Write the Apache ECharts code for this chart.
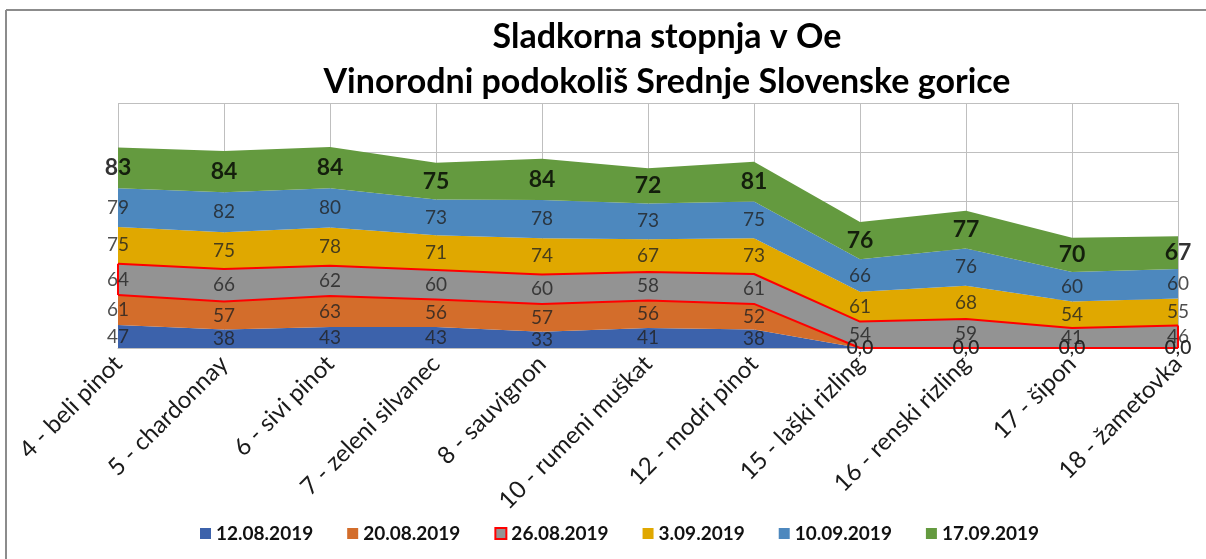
<!DOCTYPE html>
<html>
<head>
<meta charset="utf-8">
<script src="https://cdn.jsdelivr.net/npm/echarts@6/dist/echarts.min.js"></script>
<style>
html,body{margin:0;padding:0;background:#fff;}
#c{width:1206px;height:559px;}
</style>
</head>
<body>
<div id="c"></div>
<script>
var categories = ['4 - beli pinot','5 - chardonnay','6 - sivi pinot','7 - zeleni silvanec','8 - sauvignon','10 - rumeni muškat','12 - modri pinot','15 - laški rizling','16 - renski rizling','17 - šipon','18 - žametovka'];
var seriesNames = ['12.08.2019','20.08.2019','26.08.2019','3.09.2019','10.09.2019','17.09.2019'];
var s1208 = [47,38,43,43,33,41,38,0,0,0,0];
var s2008 = [61,57,63,56,57,56,52,0,0,0,0];
var s2608 = [64,66,62,60,60,58,61,54,59,41,46];
var s0309 = [75,75,78,71,74,67,73,61,68,54,55];
var s1009 = [79,82,80,73,78,73,75,66,76,60,60];
var s1709 = [83,84,84,75,84,72,81,76,77,70,67];
var yMin = 0, yMax = 500, yInterval = 100;

var values = [s1208,s2008,s2608,s0309,s1009,s1709];
var colors = ['#3C62AB','#D36D2B','#939393','#E0A800','#4D88BE','#649A3F'];
var FONT = 'Lato, "Open Sans", sans-serif';

// cumulative sums (for label midpoints and outline sides)
var cum = [];
values.forEach(function(arr, k){
  cum.push(arr.map(function(v,i){ return (k>0?cum[k-1][i]:0) + v; }));
});

var series = [];
values.forEach(function(arr, k){
  var s = {
    name: seriesNames[k],
    type: 'line',
    stack: 'total',
    data: arr,
    symbol: 'none',
    showSymbol: false,
    color: colors[k],
    itemStyle: {color: colors[k]},
    areaStyle: {color: colors[k], opacity: 1},
    lineStyle: {width: 0, color: colors[k]},
    z: 2,
    silent: true
  };
  if (k === 1) { // top edge of orange = bottom edge of the red-outlined area
    s.lineStyle = {width: 2, color: '#FF0000'};
    s.z = 4;
  }
  if (k === 2) {
    s.lineStyle = {width: 2, color: '#FF0000'};
    s.z = 3;
    s.markLine = {
      silent: true,
      symbol: 'none',
      label: {show: false},
      lineStyle: {color: '#FF0000', width: 2, type: 'solid'},
      data: [
        [{coord: [0, cum[1][0]]}, {coord: [0, cum[2][0]]}],
        [{coord: [categories.length-1, cum[1][categories.length-1]]}, {coord: [categories.length-1, cum[2][categories.length-1]]}]
      ]
    };
  }
  series.push(s);
});

// labels centred in each band
values.forEach(function(arr, k){
  var bold = (k === values.length-1);
  series.push({
    name: 'lbl' + k,
    type: 'scatter',
    symbolSize: 0,
    silent: true,
    z: 10,
    data: arr.map(function(v,i){ return [i, cum[k][i] - v/2, v]; }),
    label: {
      show: true,
      position: 'inside',
      formatter: function(p){ return p.value[2] === 0 ? '0,0' : String(p.value[2]); },
      fontFamily: FONT,
      fontSize: bold ? 23 : 19,
      fontWeight: bold ? 'bold' : 'normal',
      color: bold ? '#000000' : '#222222'
    }
  });
});

var legendData = seriesNames.map(function(n,k){
  var it = {name: n, itemStyle: {color: colors[k], borderWidth: 0}};
  if (k === 2) it.itemStyle = {color: colors[k], borderColor: '#FF0000', borderWidth: 2};
  return it;
});

var chart = echarts.init(document.getElementById('c'));
chart.setOption({
  animation: false,
  backgroundColor: '#ffffff',
  title: {
    text: 'Sladkorna stopnja v Oe\nVinorodni podokoliš Srednje Slovenske gorice',
    left: 662,
    textAlign: 'center',
    top: 10,
    textStyle: {fontFamily: FONT, fontSize: 34, fontWeight: 'bold', color: '#000', lineHeight: 45}
  },
  legend: {
    data: legendData,
    left: 195,
    top: 519,
    icon: 'rect',
    itemWidth: 11,
    itemHeight: 11,
    itemGap: 34,
    textStyle: {fontFamily: FONT, fontSize: 19, fontWeight: 'bold', color: '#111'},
    selectedMode: false
  },
  grid: {left: 118, right: 28, top: 103, bottom: 211, containLabel: false},
  xAxis: {
    type: 'category',
    data: categories,
    boundaryGap: false,
    axisLine: {show: true, lineStyle: {color: '#BFBFBF', width: 1}},
    axisTick: {show: false},
    splitLine: {show: true, lineStyle: {color: '#BFBFBF', width: 1}},
    axisLabel: {interval: 0, rotate: 45, margin: 12, fontFamily: FONT, fontSize: 24, color: '#1a1a1a'}
  },
  yAxis: {
    type: 'value',
    min: yMin, max: yMax, interval: yInterval,
    axisLine: {show: false},
    axisTick: {show: false},
    axisLabel: {show: false},
    splitLine: {show: true, lineStyle: {color: '#BFBFBF', width: 1}}
  },
  graphic: [
    {type: 'line', shape: {x1: 6, y1: 10, x2: 1206, y2: 10}, style: {stroke: '#8C8C8C', lineWidth: 2}, silent: true},
    {type: 'line', shape: {x1: 6, y1: 10, x2: 6, y2: 559}, style: {stroke: '#8C8C8C', lineWidth: 2}, silent: true}
  ],
  series: series
});
</script>
</body>
</html>
